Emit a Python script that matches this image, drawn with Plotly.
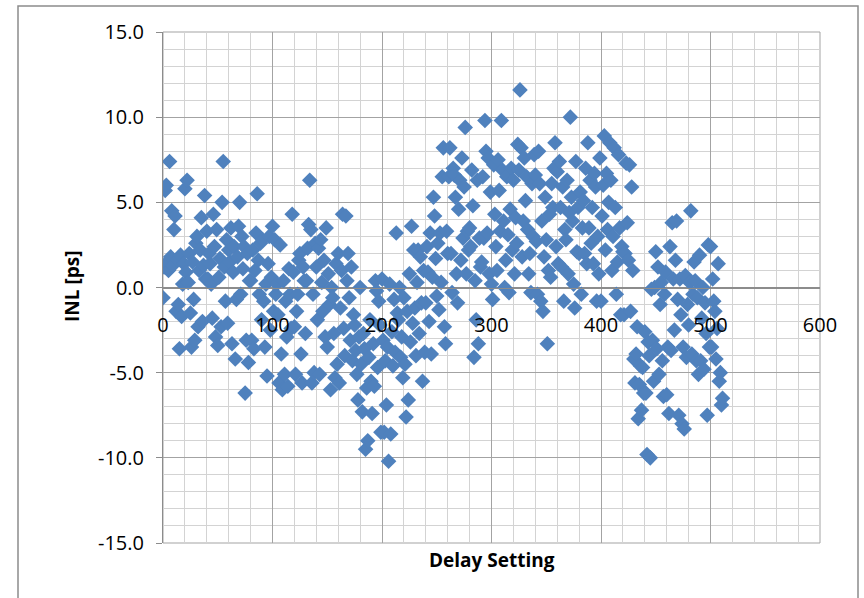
import plotly.graph_objects as go

delay_setting = list(range(512))

inl_ps = [
    # 0-19
    -0.6, 1.2, 5.7, 6.0, 1.5, 1.0, 7.4, 1.8, 4.5, 1.3, 3.4, 4.2, -1.4, 1.6, -1.0, -3.6, 1.9, -1.7, 0.2, 1.4,
    # 20-39
    5.8, 0.9, 6.3, 0.3, 2.0, -1.5, -3.5, 1.5, -0.7, -3.1, 2.6, 3.0, -2.3, 1.0, 2.2, 4.1, -2.0, 1.3, 5.4, 0.5,
    # 40-59
    3.3, 0.5, 2.0, 1.4, 0.2, -1.8, 4.3, 2.4, -2.9, 3.4, -3.4, 0.6, 1.7, -2.3, 5.0, 7.4, 1.2, -0.8, 2.8, -2.1,
    # 60-79
    2.2, 1.5, 3.5, -3.3, 0.9, 2.4, -4.2, -0.7, 1.8, 3.6, 5.0, -0.4, 3.0, 1.1, 2.4, -6.2, -3.1, 2.0, -4.4, 0.4,
    # 80-99
    0.4, -3.1, 2.2, -3.6, 1.0, 3.2, 5.5, 1.6, -0.4, 2.6, -1.9, 2.8, -0.8, -3.5, 0.2, -5.2, 1.4, 3.0, -2.5, 0.6,
    # 100-119
    3.6, -1.4, 2.8, -0.4, 0.2, -1.6, -5.6, 2.5, -3.9, -6.0, 0.4, -5.1, -0.8, -2.9, -5.8, 1.1, -0.4, -2.4, 4.3, 0.9,
    # 120-139
    -2.3, -5.1, -1.4, -0.4, 1.6, 2.0, -3.9, -5.6, 1.2, 0.4, -2.7, 0.4, 2.3, 3.7, 6.3, 3.4, -5.6, -0.4, -5.0, 2.6,
    # 140-159
    1.2, -1.9, 2.3, -5.1, 2.8, 0.3, -1.4, 1.6, -2.9, 3.5, -3.5, 0.8, -1.0, -6.0, 0.0, -0.6, -2.7, -5.3, 1.4, -4.5,
    # 160-179
    2.0, -5.6, -1.2, 1.0, 4.3, -2.4, -4.0, 4.2, 0.4, 2.0, -0.6, -3.1, 1.2, -4.3, -1.6, -2.2, -3.7, -5.1, -6.6, -2.9,
    # 180-199
    0.0, -4.5, -7.3, -2.7, -3.6, -9.5, -5.9, -9.0, -4.1, -1.9, -5.5, -7.4, -3.3, -5.8, 0.4, -0.2, -4.7, -0.8, -2.2, -8.5,
    # 200-219
    0.5, -3.1, -8.5, -4.3, -6.9, -3.5, -10.2, 0.2, -8.6, -2.6, -4.6, -0.7, -3.8, 3.2, -1.5, -1.9, 0.0, -4.1, -2.9, -5.3,
    # 220-239
    -0.6, -4.5, -7.6, -1.4, -6.6, 0.8, -3.2, 3.6, -2.1, 2.2, -1.2, -4.0, 0.3, 2.2, -2.7, 1.8, -0.9, -5.5, 1.0, -3.8,
    # 240-259
    -0.9, 2.4, 0.9, -2.0, 3.2, -3.9, 0.6, 5.3, 4.2, 1.7, -0.5, 2.6, -1.3, 3.2, 0.3, 6.5, 8.2, -2.3, -3.3, 3.3,
    # 260-279
    2.0, 6.5, 8.2, 2.0, -0.3, 7.0, 6.6, 5.3, 0.8, -0.9, 4.6, 6.3, 1.6, 7.6, 2.9, 5.9, 9.4, 0.8, 3.3, 2.2,
    # 280-299
    3.5, 2.4, 6.9, 4.8, -4.1, 0.4, -1.9, 6.3, -3.3, 2.9, 1.2, 1.5, 6.5, 2.9, 9.8, 8.0, 3.2, 7.6, 0.8, 5.6,
    # 300-319
    0.2, -0.7, 7.2, 4.3, 2.4, 1.0, 7.5, 5.7, 3.3, 9.8, 6.9, 3.9, 0.0, 1.6, 6.5, 3.1, -0.3, 4.6, 7.0, 2.2,
    # 320-339
    6.3, 0.8, 4.1, 2.6, 8.4, 6.9, 11.6, 8.2, 1.8, 3.9, 7.6, 5.1, 6.5, 3.4, 0.8, 2.0, -0.3, 6.1, 3.0, 7.8,
    # 340-359
    6.6, 2.7, -0.4, 8.0, 6.1, -0.8, 3.9, -1.4, 1.8, 5.3, 2.8, -3.3, 1.0, 4.3, 0.6, 6.1, 4.7, 7.0, 8.5, 2.4,
    # 360-379
    6.8, 1.4, 7.4, 4.7, 1.2, 5.9, -0.8, 3.4, 2.8, 6.3, 0.8, 4.4, 10.0, 5.3, 3.9, 0.2, -1.2, 7.4, 2.1, 4.7,
    # 380-399
    2.0, 5.6, -0.4, 3.5, 5.1, 2.0, 7.0, 1.4, 8.5, 3.5, 6.3, 2.6, 4.7, 1.4, 6.7, 5.9, -0.8, 3.0, 0.8, 7.6,
    # 400-419
    -0.8, 4.2, 6.0, 8.9, 2.2, 6.7, 3.4, 5.0, 8.5, 6.3, 1.0, 3.0, 8.2, 4.7, -0.4, 1.5, 7.8, 3.5, -1.6, 2.4,
    # 420-439
    2.1, -1.6, 2.0, 7.3, 3.8, 1.6, 7.2, -1.4, 5.9, 1.0, -4.2, -5.6, -3.9, -2.3, -7.7, -5.7, -4.6, -7.2, -4.7, -6.2,
    # 440-459
    -2.6, -6.2, -9.8, -3.2, -4.0, -10.0, -0.1, -3.1, -5.5, 0.0, 2.1, -3.6, 1.2, -5.1, -1.0, 0.3, -4.3, -6.4, -0.4, 0.9,
    # 460-479
    -6.3, -3.5, -7.4, 2.4, -3.7, 3.8, 0.5, -2.5, 1.6, 3.9, -0.7, -7.5, 0.5, -1.6, -8.0, -3.5, -8.3, 0.7, -4.1, -1.0,
    # 480-499
    -2.2, 0.3, 4.5, -3.9, -0.4, 1.5, 0.4, -4.3, -0.6, -5.1, 1.9, -4.3, -1.8, 0.0, -4.8, -0.9, -2.7, -7.5, 2.5, -3.5,
    # 500-511
    2.4, -3.5, 0.5, -0.8, -1.4, -4.2, -2.4, 1.4, -5.5, -5.0, -6.9, -6.5,
]

x_ticks = [0, 100, 200, 300, 400, 500, 600]
y_ticks = [-15, -10, -5, 0, 5, 10, 15]
y_tick_labels = ["-15.0", "-10.0", "-5.0", "0.0", "5.0", "10.0", "15.0"]

x_title = "Delay Setting"
y_title = "INL [ps]"

FONT = "Open Sans, Lato, sans-serif"
MAJOR = "#a3a3a3"
MINOR = "#d3d3d3"
AXIS = "#8c8c8c"

fig = go.Figure()
fig.add_trace(go.Scatter(
    x=delay_setting, y=inl_ps, mode="markers",
    marker=dict(symbol="diamond", size=12, color="#4F81BD", line=dict(width=0)),
    showlegend=False, hoverinfo="x+y",
))

W, H = 864, 598
L, R, T, B = 163, 44, 32, 55
pw, ph = W - L - R, H - T - B

def px_to_paper_x(px):
    return (px - L) / pw

def px_to_paper_y(py):
    return (H - B - py) / ph

fig.update_layout(
    width=W, height=H,
    margin=dict(l=L, r=R, t=T, b=B, pad=0),
    paper_bgcolor="white", plot_bgcolor="white",
    font=dict(family=FONT, color="#000000", size=20),
    xaxis=dict(
        range=[0, 600], tickvals=x_ticks, ticktext=[str(v) for v in x_ticks],
        anchor="free", position=0.5,
        showline=True, linecolor=AXIS, linewidth=1,
        showgrid=True, gridcolor=MAJOR, gridwidth=1,
        minor=dict(dtick=20, showgrid=True, gridcolor=MINOR, gridwidth=1),
        zeroline=False, ticks="", ticklabelstandoff=19,
        tickfont=dict(size=20, family=FONT),
        automargin=False, fixedrange=True,
    ),
    yaxis=dict(
        range=[-15, 15], tickvals=y_ticks, ticktext=y_tick_labels,
        showline=True, linecolor=AXIS, linewidth=1,
        showgrid=True, gridcolor=MAJOR, gridwidth=1,
        minor=dict(dtick=1, showgrid=True, gridcolor=MINOR, gridwidth=1),
        zeroline=True, zerolinecolor=AXIS, zerolinewidth=1,
        ticks="outside", ticklen=6, tickcolor=AXIS, ticklabelstandoff=8,
        tickfont=dict(size=20, family=FONT),
        automargin=False, fixedrange=True,
    ),
    shapes=[
        dict(type="rect", xref="paper", yref="paper",
             x0=0, x1=1, y0=0, y1=1, line=dict(color=MAJOR, width=1), layer="below"),
        dict(type="rect", xref="paper", yref="paper",
             x0=px_to_paper_x(18), x1=px_to_paper_x(858),
             y0=px_to_paper_y(605), y1=px_to_paper_y(6),
             line=dict(color="#8c8c8c", width=1.5)),
    ],
    annotations=[
        dict(text="<b>%s</b>" % x_title, xref="paper", yref="paper",
             x=px_to_paper_x(492), y=px_to_paper_y(560), showarrow=False,
             font=dict(size=19, family=FONT), xanchor="center", yanchor="middle"),
        dict(text="<b>%s</b>" % y_title, xref="paper", yref="paper",
             x=px_to_paper_x(72), y=px_to_paper_y(287), showarrow=False, textangle=-90,
             font=dict(size=19, family=FONT), xanchor="center", yanchor="middle"),
    ],
)

fig.write_html(
    "out.html",
    config={"displayModeBar": False},
    post_script="document.body.style.margin='0';document.body.style.overflow='hidden';",
)
